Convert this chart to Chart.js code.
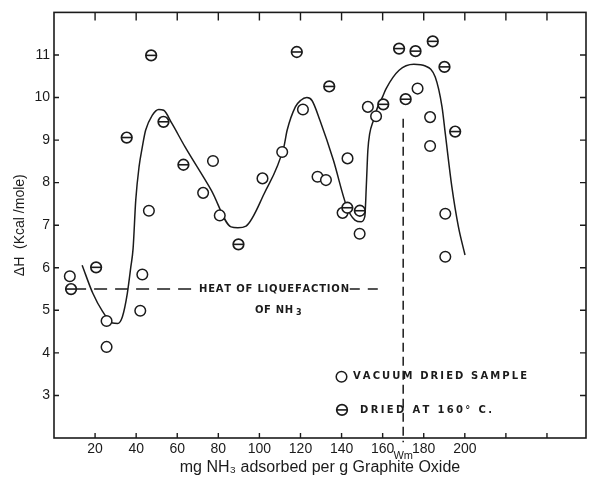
<!DOCTYPE html>
<html><head><meta charset="utf-8">
<script src="https://cdn.jsdelivr.net/npm/chart.js@4.4.0/dist/chart.umd.min.js"></script>
<style>html,body{margin:0;padding:0;background:#fff;overflow:hidden}</style>
</head><body>
<canvas id="c" width="593" height="485"></canvas>
<script>
// ---- data ----
const vacuumX = [7.7, 25.6, 25.6, 42.0, 43.0, 46.2, 72.6, 77.4, 80.7, 101.5, 111.1, 121.2, 128.3, 132.4, 140.5, 142.9, 148.8, 152.8, 156.8, 177.0, 183.1, 183.1, 190.5, 190.5];
const vacuumY = [5.80, 4.75, 4.14, 4.99, 5.84, 7.34, 7.76, 8.51, 7.23, 8.10, 8.72, 9.72, 8.14, 8.06, 7.29, 8.57, 6.80, 9.78, 9.56, 10.21, 9.54, 8.86, 7.27, 6.26];
const driedX = [8.3, 20.5, 35.4, 47.3, 53.3, 63.0, 89.8, 118.2, 134.0, 142.8, 148.9, 160.3, 168.0, 171.2, 176.0, 184.4, 190.1, 195.3];
const driedY = [5.50, 6.01, 9.06, 10.99, 9.43, 8.42, 6.55, 11.07, 10.26, 7.41, 7.34, 9.84, 11.15, 9.96, 11.09, 11.32, 10.72, 9.20];
const curveX = [13.7, 18.9, 23.7, 28.5, 31.0, 33.3, 35.7, 37.4, 38.5, 39.8, 41.4, 43.0, 44.6, 47.8, 51.0, 53.4, 57.4, 63.8, 76.6, 86.2, 89.5, 93.5, 102.3, 111.9, 113.5, 117.5, 120.0, 123.1, 125.6, 129.5, 136.0, 142.5, 146.5, 149.6, 151.3, 152.1, 152.8, 153.7, 155.5, 157.6, 160.0, 161.7, 168.0, 175.2, 180.8, 185.6, 188.9, 190.5, 193.7, 196.9, 200.1];
const curveY = [6.06, 5.40, 4.97, 4.70, 4.69, 4.85, 5.40, 6.02, 6.45, 7.59, 8.37, 8.84, 9.23, 9.58, 9.72, 9.70, 9.39, 8.84, 7.82, 6.96, 6.94, 6.98, 7.74, 8.84, 9.23, 9.78, 9.93, 10.00, 9.93, 9.46, 8.53, 7.44, 7.12, 7.08, 7.20, 7.98, 8.76, 9.15, 9.46, 9.78, 10.02, 10.21, 10.64, 10.78, 10.74, 10.48, 9.78, 9.15, 7.90, 6.96, 6.30];
const liquefactionY = [5.5, 5.5];
const liqDashA = [9.3, 68.0];
const liqDashB = [144.0, 158.5];
const wmX = [170, 170];
const wmY = [9.5, 1.9];
const xTickLabels = [20, 40, 60, 80, 100, 120, 140, 160, 180, 200];
const yTickLabels = [3, 4, 5, 6, 7, 8, 9, 10, 11];

const INK = '#1b1b1b';
const R = 5.3;
const pts = (xs, ys) => xs.map((x, i) => ({x, y: ys[i]}));

function spacedText(ctx, text, x, y, width) {
  const chars = [...text];
  let natural = 0;
  chars.forEach(ch => natural += ctx.measureText(ch).width);
  const sp = chars.length > 1 ? (width - natural) / (chars.length - 1) : 0;
  let cx = x;
  chars.forEach(ch => { ctx.fillText(ch, cx, y); cx += ctx.measureText(ch).width + sp; });
}
function bar(ctx, px, py) {
  ctx.beginPath(); ctx.moveTo(px - R, py); ctx.lineTo(px + R, py); ctx.stroke();
}

const annot = {
  id: 'annot',
  afterDatasetsDraw(chart) {
    const {ctx, scales: {x, y}} = chart;
    ctx.save();
    ctx.fillStyle = INK; ctx.strokeStyle = INK;
    // bars of the theta markers
    ctx.lineWidth = 1.6;
    chart.getDatasetMeta(1).data.forEach(el => bar(ctx, el.x, el.y));
    // vertical Wm dashed line
    ctx.lineWidth = 1.5; ctx.setLineDash([9, 5]);
    ctx.beginPath();
    ctx.moveTo(x.getPixelForValue(wmX[0]), y.getPixelForValue(wmY[0]));
    ctx.lineTo(x.getPixelForValue(wmX[1]), y.getPixelForValue(wmY[1]));
    ctx.stroke();
    ctx.setLineDash([]);
    // texts
    ctx.textBaseline = 'middle'; ctx.textAlign = 'left';
    ctx.font = 'bold 10px "DejaVu Sans"';
    spacedText(ctx, 'HEAT OF LIQUEFACTION', 199, y.getPixelForValue(5.5), 150);
    spacedText(ctx, 'OF NH', 255, y.getPixelForValue(5.0), 38);
    ctx.font = 'bold 8px "DejaVu Sans"';
    ctx.fillText('3', 296, y.getPixelForValue(5.0) + 3);
    ctx.font = 'bold 10px "DejaVu Sans"';
    spacedText(ctx, 'VACUUM DRIED SAMPLE', 353, y.getPixelForValue(3.44), 174);
    spacedText(ctx, 'DRIED AT 160\u00B0 C.', 360, y.getPixelForValue(2.66), 132);
    // legend markers
    ctx.lineWidth = 1.5; ctx.fillStyle = '#fff';
    ctx.beginPath(); ctx.arc(341.5, y.getPixelForValue(3.44), R, 0, Math.PI * 2); ctx.fill(); ctx.stroke();
    ctx.lineWidth = 1.7;
    ctx.beginPath(); ctx.arc(342, y.getPixelForValue(2.66), R, 0, Math.PI * 2); ctx.fill(); ctx.stroke();
    ctx.lineWidth = 1.6;
    bar(ctx, 342, y.getPixelForValue(2.66));
    // Wm label
    ctx.fillStyle = INK;
    ctx.font = '11px "Liberation Sans"'; ctx.textAlign = 'center';
    ctx.fillText('Wm', x.getPixelForValue(170), 456);
    ctx.restore();
  },
  afterDraw(chart) {
    const {ctx, scales: {x, y}, chartArea: a} = chart;
    ctx.save();
    ctx.strokeStyle = INK; ctx.lineWidth = 1.6;
    ctx.strokeRect(a.left, a.top, a.right - a.left, a.bottom - a.top);
    ctx.lineWidth = 1.4;
    ctx.beginPath();
    for (let v = 20; v <= 240; v += 20) {
      const px = x.getPixelForValue(v);
      ctx.moveTo(px, a.bottom); ctx.lineTo(px, a.bottom - 5);
      ctx.moveTo(px, a.top); ctx.lineTo(px, a.top + 8);
    }
    for (let v = 3; v <= 11; v++) {
      const py = y.getPixelForValue(v);
      ctx.moveTo(a.left, py); ctx.lineTo(a.left + 5, py);
      ctx.moveTo(a.right, py); ctx.lineTo(a.right - 6, py);
    }
    ctx.stroke();
    ctx.restore();
  }
};

new Chart(document.getElementById('c'), {
  type: 'scatter',
  data: {
    datasets: [
      { label: 'Vacuum dried sample', data: pts(vacuumX, vacuumY), pointStyle: 'circle', pointRadius: R, pointHoverRadius: R,
        borderColor: INK, backgroundColor: '#fff', borderWidth: 1.5, order: 1 },
      { label: 'Dried at 160° C.', data: pts(driedX, driedY), pointStyle: 'circle', pointRadius: R, pointHoverRadius: R,
        borderColor: INK, backgroundColor: '#fff', borderWidth: 1.7, order: 0 },
      { type: 'line', label: 'curve', data: pts(curveX, curveY), borderColor: INK, borderWidth: 1.5, pointRadius: 0,
        cubicInterpolationMode: 'monotone', fill: false, order: 5 },
      { type: 'line', label: 'liq1', data: pts(liqDashA, liquefactionY), borderColor: INK, borderWidth: 1.6, borderDash: [13, 8], pointRadius: 0, order: 6 },
      { type: 'line', label: 'liq2', data: pts(liqDashB, liquefactionY), borderColor: INK, borderWidth: 1.6, borderDash: [10, 8], pointRadius: 0, order: 6 }
    ]
  },
  options: {
    responsive: false, animation: false, devicePixelRatio: 1,
    layout: { padding: { top: 12, right: 1, left: 0, bottom: 0 } },
    plugins: { legend: { display: false }, tooltip: { enabled: false } },
    scales: {
      x: {
        type: 'linear', min: 0, max: 259,
        grid: { display: false, drawTicks: false }, border: { display: false },
        ticks: { stepSize: 20, includeBounds: false, padding: 3, color: INK, maxRotation: 0,
          font: { family: '"Liberation Sans"', size: 14 },
          callback: v => xTickLabels.includes(v) ? String(v) : '' },
        title: { display: true, text: 'mg NH\u2083 adsorbed per g Graphite Oxide', color: INK,
          font: { family: '"Liberation Sans"', size: 16 }, padding: { top: 0, bottom: 8 } },
        afterFit: s => { s.height = 47; }
      },
      y: {
        type: 'linear', min: 2, max: 12,
        grid: { display: false, drawTicks: false }, border: { display: false },
        ticks: { stepSize: 1, includeBounds: false, padding: 4, color: INK,
          font: { family: '"Liberation Sans"', size: 14 },
          callback: v => yTickLabels.includes(v) ? String(v) : '' },
        title: { display: true, text: '\u0394H  (Kcal /mole)', color: INK,
          font: { family: '"Liberation Sans"', size: 14 }, padding: { top: 12, bottom: 0 } },
        afterFit: s => { s.width = 54; }
      }
    }
  },
  plugins: [annot]
});
</script>
</body></html>
